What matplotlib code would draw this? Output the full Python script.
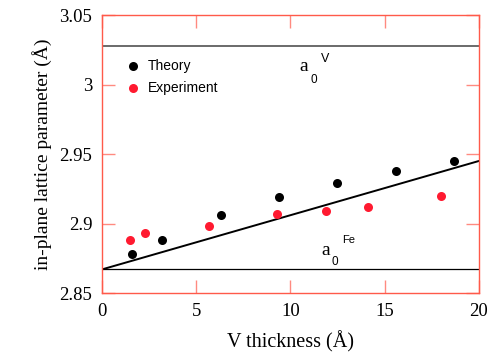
import matplotlib.pyplot as plt

# data
theory_x = [1.6, 3.2, 6.3, 9.4, 12.5, 15.6, 18.7]
theory_y = [2.878, 2.888, 2.906, 2.919, 2.929, 2.938, 2.945]
exp_x = [1.5, 2.3, 5.7, 9.3, 11.9, 14.1, 18.0]
exp_y = [2.888, 2.893, 2.898, 2.907, 2.909, 2.912, 2.920]
fit_x = [0, 20]
fit_y = [2.867, 2.945]
a0_V = 3.028
a0_Fe = 2.867

xticks = [0, 5, 10, 15, 20]
yticks = [2.85, 2.9, 2.95, 3.0, 3.05]
ytick_labels = ["2.85", "2.9", "2.95", "3", "3.05"]

SERIF = "Liberation Serif"
SANS = "Liberation Sans"
SPINE_RED = "#ff5a4a"
TICK_RED = "#ff8a80"
RED = "#ff1a30"

fig = plt.figure(figsize=(4.88, 3.6), dpi=100)
ax = fig.add_axes([0.209, 0.186, 0.772, 0.772])

ax.axhline(a0_V, color="#6a6a6a", lw=1.4, zorder=1)
ax.axhline(a0_Fe, color="black", lw=0.9, zorder=1)
ax.plot(fit_x, fit_y, color="black", lw=1.4, zorder=2)

ax.plot(theory_x, theory_y, "o", color="black", ms=6.5, mec="none", zorder=3)
ax.plot(exp_x, exp_y, "o", color=RED, ms=6.5, mec="none", zorder=3)

ax.set_xlim(0, 20)
ax.set_ylim(2.85, 3.05)
ax.set_xticks(xticks)
ax.set_xticklabels([str(t) for t in xticks], family=SERIF, fontsize=13.5)
ax.set_yticks(yticks)
ax.set_yticklabels(ytick_labels, family=SERIF, fontsize=13.5)
ax.tick_params(direction="in", length=9.5, width=1, color=TICK_RED,
               top=True, right=True, pad=7)
for sp in ax.spines.values():
    sp.set_color(SPINE_RED)
    sp.set_linewidth(1)

ax.set_xlabel("V thickness (Å)", family=SERIF, fontsize=14.5, labelpad=8)
ax.set_ylabel("in-plane lattice parameter (Å)", family=SERIF, fontsize=14, labelpad=5)

# legend drawn by hand
ax.plot([1.65], [3.0133], "o", color="black", ms=6.5, mec="none")
ax.plot([1.65], [2.9975], "o", color=RED, ms=6.5, mec="none")
ax.text(2.45, 3.0133, "Theory", family=SANS, fontsize=10, va="center")
ax.text(2.45, 2.9975, "Experiment", family=SANS, fontsize=10, va="center")

# a0 labels
ax.text(10.5, 3.0095, "a", family=SERIF, fontsize=14, va="baseline")
ax.text(11.05, 3.0015, "0", family=SANS, fontsize=8.5, va="baseline")
ax.text(11.6, 3.0165, "V", family=SANS, fontsize=9, va="baseline")

ax.text(11.65, 2.8775, "a", family=SERIF, fontsize=14, va="baseline")
ax.text(12.2, 2.8705, "0", family=SANS, fontsize=8.5, va="baseline")
ax.text(12.75, 2.886, "Fe", family=SANS, fontsize=8, va="baseline")

fig.savefig("out.png", dpi=100)
